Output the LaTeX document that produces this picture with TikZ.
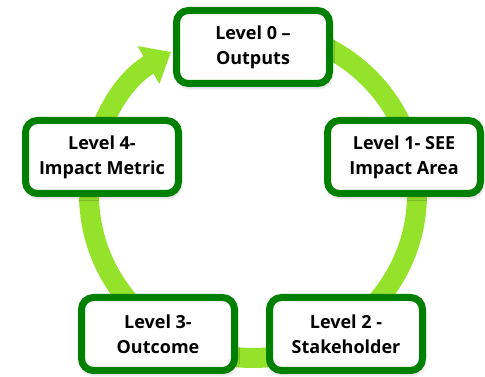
\documentclass[tikz,border=0pt]{standalone}
\usepackage{fontspec}
\setmainfont{Open Sans}
\usetikzlibrary{arrows.meta,shadows.blur}
\definecolor{ringgreen}{RGB}{148,226,42}
\definecolor{boxgreen}{RGB}{0,128,0}
\begin{document}
\begin{tikzpicture}[x=1pt,y=1pt,
  level/.style={draw=boxgreen, line width=7pt, fill=white, rounded corners=12pt,
    minimum width=153pt, minimum height=73pt, align=center, inner sep=0pt,
    font=\fontsize{18}{25}\selectfont\bfseries,
    blur shadow={shadow xshift=1pt, shadow yshift=-3pt, shadow opacity=35, shadow blur radius=4pt}},
  ring/.style={draw=ringgreen, line width=20pt}]
\useasboundingbox (0,0) rectangle (485,377);
% the cycle ring, running clockwise and ending in an arrow into level 0
\coordinate (hub) at (253,183);
\draw[ring, -{Triangle[length=26pt,width=42pt]}]
  ([shift={(95:164)}]hub) arc[start angle=95, end angle=-240, radius=164];
% the five levels
\node[level] (l0) at (253,330) {Level 0 –\\Outputs};
\node[level] (l1) at (404,220) {Level 1- SEE\\Impact Area};
\node[level] (l2) at (346,43) {Level 2 -\\Stakeholder};
\node[level] (l3) at (158,43) {Level 3-\\Outcome};
\node[level] (l4) at (102,220) {Level 4-\\Impact Metric};
\end{tikzpicture}
\end{document}
